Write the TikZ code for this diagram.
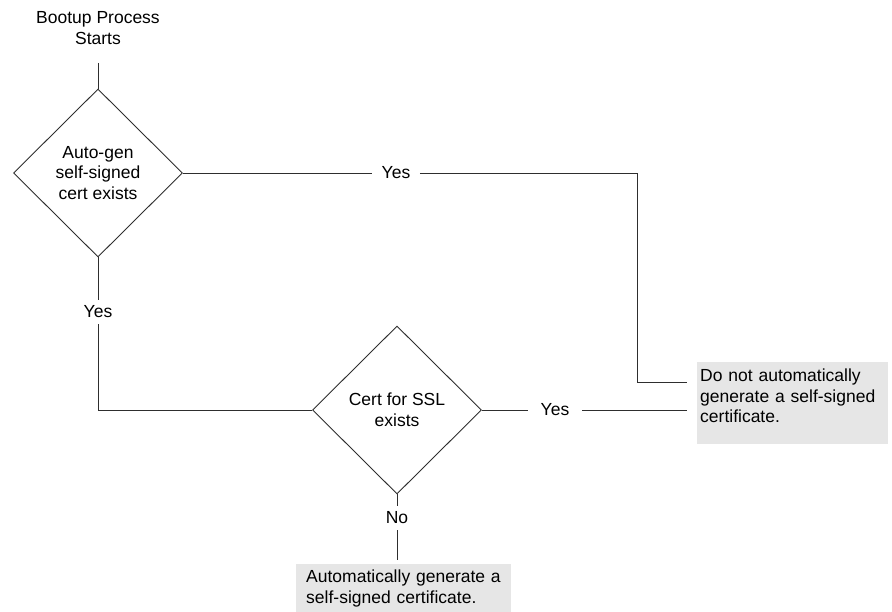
\documentclass[tikz,border=0pt]{standalone}
\usepackage{fontspec}
\setmainfont{Liberation Sans}
\usepackage{tikz}
\usetikzlibrary{shapes.geometric,positioning}
\definecolor{boxGray}{HTML}{E6E6E6}
\definecolor{lineGray}{HTML}{2E2E2E}

\begin{document}
\begin{tikzpicture}[x=1pt,y=-1pt,
    font=\fontsize{17.5}{20.5}\selectfont,
    decision/.style={diamond,draw=lineGray,line width=0.9pt,aspect=1,
      minimum width=169pt,minimum height=168pt,inner sep=0pt,align=center},
    result/.style={fill=boxGray,anchor=north west,align=left,inner ysep=6pt},
    answer/.style={inner xsep=9.5pt,inner ysep=6pt},
    link/.style={draw=lineGray,line width=0.9pt}]
    \useasboundingbox (0,0) rectangle (892,612);
    \node[align=center] (start) at (98,28) {Bootup Process\\Starts};
    \node[decision] (autogen) at (98,173) {Auto-gen\\self-signed\\cert exists};
    \node[decision] (sslcert) at (397,410) {Cert for SSL\\exists};
    \node[answer] (yesA) at (396,173) {Yes};
    \node[answer] (yesB) at (98,312) {Yes};
    \node[answer,inner xsep=13pt] (yesC) at (555,410) {Yes};
    \node[answer] (noD) at (397,518) {No};
    \node[result,text width=185pt,inner xsep=3pt,inner ysep=7pt] (noauto) at (697,362)
      {Do not automatically\\generate a self-signed\\certificate.\rule[-14pt]{0pt}{14pt}};
    \node[result,text width=195pt,inner xsep=10pt] (autocert) at (296,564)
      {Automatically generate a\\self-signed certificate.};
    \coordinate (turn) at (637,382);
    \draw[link,shorten <=15pt] (start.south) -- (autogen.north);
    \draw[link] (autogen.east) -- (yesA.west);
    \draw[link,shorten >=10pt] (yesA.east) -| (turn) -- (turn -| noauto.west);
    \draw[link] (autogen.south) -- (yesB.north);
    \draw[link] (yesB.south) |- (sslcert.west);
    \draw[link] (sslcert.east) -- (yesC.west);
    \draw[link,shorten >=10pt] (yesC.east) -- (yesC.east -| noauto.west);
    \draw[link] (sslcert.south) -- (noD.north);
    \draw[link,shorten >=4pt] (noD.south) -- (noD.south |- autocert.north);
\end{tikzpicture}
\end{document}
